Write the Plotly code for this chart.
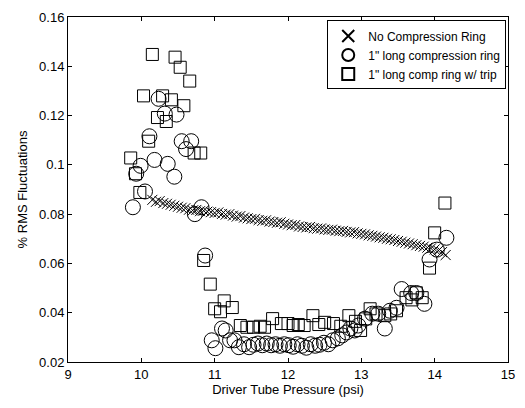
import plotly.graph_objects as go

# No Compression Ring
nc_x = [10.15, 10.20, 10.25, 10.30, 10.35, 10.40, 10.45, 10.50, 10.55, 10.60,
        10.65, 10.70, 10.75, 10.80, 10.85, 10.90, 10.95, 11.00, 11.05, 11.10,
        11.15, 11.20, 11.25, 11.30, 11.35, 11.40, 11.45, 11.50, 11.55, 11.60,
        11.65, 11.70, 11.75, 11.80, 11.85, 11.90, 11.95, 12.00, 12.05, 12.10,
        12.15, 12.20, 12.25, 12.30, 12.35, 12.40, 12.45, 12.50, 12.55, 12.60,
        12.65, 12.70, 12.75, 12.80, 12.85, 12.90, 12.95, 13.00, 13.05, 13.10,
        13.15, 13.20, 13.25, 13.30, 13.35, 13.40, 13.45, 13.50, 13.55, 13.60,
        13.65, 13.70, 13.75, 13.80, 13.85, 13.90, 13.95, 14.00, 14.05, 14.10,
        14.15]
nc_y = [0.0858, 0.0850, 0.0853, 0.0845, 0.0842, 0.0838, 0.0834, 0.0830, 0.0826, 0.0824,
        0.0818, 0.0815, 0.0817, 0.0812, 0.0814, 0.0810, 0.0808, 0.0805, 0.0807, 0.0801,
        0.0798, 0.0800, 0.0794, 0.0790, 0.0792, 0.0786, 0.0783, 0.0780, 0.0781, 0.0776,
        0.0773, 0.0775, 0.0770, 0.0768, 0.0765, 0.0767, 0.0761, 0.0758, 0.0755, 0.0756,
        0.0750, 0.0748, 0.0746, 0.0748, 0.0743, 0.0741, 0.0742, 0.0738, 0.0736, 0.0737,
        0.0733, 0.0731, 0.0732, 0.0728, 0.0726, 0.0727, 0.0722, 0.0720, 0.0718, 0.0714,
        0.0712, 0.0709, 0.0706, 0.0704, 0.0700, 0.0698, 0.0695, 0.0691, 0.0688, 0.0684,
        0.0681, 0.0678, 0.0674, 0.0671, 0.0668, 0.0664, 0.0661, 0.0657, 0.0652, 0.0646,
        0.0634]

# 1" long compression ring
cr_x = [9.885, 9.93, 9.99, 10.05, 10.11, 10.18, 10.235, 10.32, 10.36, 10.45,
        10.48, 10.55, 10.61, 10.68, 10.73, 10.82, 10.87,
        10.96, 11.01, 11.10, 11.15, 11.21, 11.27, 11.33, 11.40, 11.47, 11.53,
        11.59, 11.65, 11.71, 11.77, 11.83, 11.89, 11.95, 12.01, 12.07, 12.13,
        12.19, 12.25, 12.31, 12.37, 12.43, 12.49, 12.55, 12.61, 12.68, 12.74,
        12.80, 12.85, 12.91, 12.96, 13.05, 13.15, 13.23, 13.32, 13.39, 13.48,
        13.55, 13.68, 13.75, 13.86, 13.93, 14.03, 14.16]
cr_y = [0.0828, 0.0964, 0.0996, 0.0892, 0.1116, 0.1020, 0.1268, 0.1208, 0.1004, 0.0952,
        0.1204, 0.1096, 0.1064, 0.1096, 0.0800, 0.0828, 0.0632,
        0.0288, 0.0256, 0.0336, 0.0328, 0.0288, 0.0288, 0.0260, 0.0272, 0.0260, 0.0270,
        0.0275, 0.0268, 0.0275, 0.0268, 0.0272, 0.0266, 0.0272, 0.0268, 0.0262, 0.0272,
        0.0266, 0.0258, 0.0272, 0.0266, 0.0270, 0.0278, 0.0272, 0.0288, 0.0296, 0.0308,
        0.0320, 0.0336, 0.0328, 0.0348, 0.0376, 0.0396, 0.0396, 0.0336, 0.0408, 0.0420,
        0.0496, 0.0480, 0.0480, 0.0436, 0.0616, 0.0656, 0.0704]

# 1" long comp ring w/ trip
tr_x = [9.855, 9.92, 9.98, 10.03, 10.10, 10.15, 10.22, 10.29, 10.34, 10.41,
        10.46, 10.53, 10.58, 10.66, 10.72, 10.81, 10.85, 10.94, 11.00, 11.08,
        11.13, 11.24, 11.35, 11.44, 11.53, 11.62, 11.68, 11.79, 11.91, 12.00,
        12.07, 12.14, 12.22, 12.34, 12.42, 12.50, 12.62, 12.72, 12.83, 12.92,
        12.99, 13.06, 13.12, 13.20, 13.32, 13.40, 13.48, 13.61, 13.69, 13.75,
        13.83, 13.93, 14.00, 14.14]
tr_y = [0.1028, 0.0964, 0.0888, 0.1280, 0.1096, 0.1448, 0.1192, 0.1280, 0.1176, 0.1264,
        0.1437, 0.1396, 0.1240, 0.1340, 0.1048, 0.1048, 0.0612, 0.0516, 0.0416, 0.0404,
        0.0448, 0.0421, 0.0348, 0.0341, 0.0341, 0.0345, 0.0341, 0.0376, 0.0356, 0.0356,
        0.0348, 0.0352, 0.0348, 0.0388, 0.0352, 0.0361, 0.0356, 0.0345, 0.0388, 0.0365,
        0.0328, 0.0375, 0.0416, 0.0395, 0.0388, 0.0395, 0.0408, 0.0461, 0.0452, 0.0481,
        0.0461, 0.0581, 0.0724, 0.0845]

x_ticks = [9, 10, 11, 12, 13, 14, 15]
y_ticks = [0.02, 0.04, 0.06, 0.08, 0.1, 0.12, 0.14, 0.16]
y_tick_text = ["0.02", "0.04", "0.06", "0.08", "0.1", "0.12", "0.14", "0.16"]

FONT = "Liberation Sans, Arial, sans-serif"

fig = go.Figure()
fig.add_trace(go.Scatter(
    x=nc_x, y=nc_y, mode="markers", name="No Compression Ring",
    marker=dict(symbol="x-thin", size=10, line=dict(color="black", width=1), color="black")))
fig.add_trace(go.Scatter(
    x=cr_x, y=cr_y, mode="markers", name='1" long compression ring',
    marker=dict(symbol="circle-open", size=15, color="black", line=dict(width=1))))
fig.add_trace(go.Scatter(
    x=tr_x, y=tr_y, mode="markers", name='1" long comp ring w/ trip',
    marker=dict(symbol="square-open", size=12, color="black", line=dict(width=1))))

axis_common = dict(
    showline=True, linecolor="black", linewidth=1, mirror="allticks",
    ticks="inside", ticklen=4, tickcolor="black", showgrid=False, zeroline=False,
    tickfont=dict(family=FONT, size=13, color="black"),
)

fig.update_layout(
    width=525, height=408,
    margin=dict(l=68, r=10, t=12, b=46),
    paper_bgcolor="white", plot_bgcolor="white",
    font=dict(family=FONT, size=13, color="black"),
    xaxis=dict(range=[9, 15], tickvals=x_ticks, ticktext=[str(v) for v in x_ticks],
               title=dict(text="Driver Tube Pressure (psi)", standoff=2,
                          font=dict(family=FONT, size=13)),
               **axis_common),
    yaxis=dict(range=[0.02, 0.16], tickvals=y_ticks, ticktext=y_tick_text,
               title=dict(text="% RMS Fluctuations", standoff=8,
                          font=dict(family=FONT, size=13)),
               **axis_common),
    legend=dict(x=0.996, y=0.99, xanchor="right", yanchor="top",
                bgcolor="white", bordercolor="black", borderwidth=1,
                font=dict(family=FONT, size=12), itemsizing="constant",
                itemwidth=30, tracegroupgap=0),
    showlegend=True,
)

fig.write_html("out.html")
